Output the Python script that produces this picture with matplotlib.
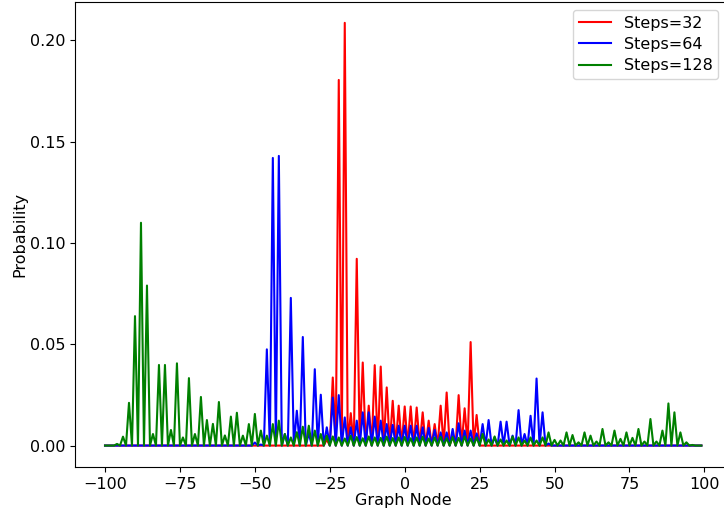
import numpy as np
import matplotlib
matplotlib.use('Agg')
import matplotlib.pyplot as plt

# Graph nodes on the line
nodes = np.arange(-100, 100)

# Walk probabilities on the even nodes (odd nodes are zero), listed from the first even node
red_start = -26
red_probs = [0.003, 0.0336, 0.1805, 0.2087, 0.016, 0.0922, 0.041, 0.0197, 0.0397,
             0.039, 0.0287, 0.0221, 0.0197, 0.0193, 0.0193, 0.0188, 0.0164, 0.0123,
             0.0106, 0.0197, 0.0262, 0.005, 0.0249, 0.0184, 0.0511, 0.0151]

blue_start = -50
blue_probs = [0.0015, 0.0005, 0.0475, 0.142, 0.143, 0.0057, 0.0729, 0.0172, 0.0536,
              0.006, 0.0377, 0.0251, 0.009, 0.0237, 0.0249, 0.0139, 0.009, 0.0123,
              0.0164, 0.0164, 0.0143, 0.0123, 0.0106, 0.0102, 0.0098, 0.0098, 0.0098,
              0.0098, 0.009, 0.0087, 0.0077, 0.0065, 0.0065, 0.0082, 0.011, 0.0074,
              0.0074, 0.006, 0.0106, 0.0126, 0.004, 0.0118, 0.0118, 0.0049, 0.0175,
              0.0057, 0.0147, 0.0331, 0.0164, 0.001]

green_start = -96
green_probs = [0.0008, 0.0044, 0.0211, 0.0639, 0.110, 0.079, 0.0057, 0.0398, 0.0398,
               0.0077, 0.0406, 0.004, 0.0333, 0.0057, 0.024, 0.0126, 0.0107, 0.0215,
               0.005, 0.0143, 0.0162, 0.0049, 0.0106, 0.0156, 0.0074, 0.0049, 0.0106,
               0.0123, 0.0057, 0.004, 0.0066, 0.0093, 0.0098, 0.0074, 0.0057, 0.0049,
               0.0045, 0.004, 0.0035, 0.0048, 0.0042, 0.0036, 0.0045, 0.004, 0.0038,
               0.0044, 0.0037, 0.004, 0.0042, 0.0036, 0.004, 0.0044, 0.0035, 0.004,
               0.0043, 0.0036, 0.0042, 0.0038, 0.0045, 0.0035, 0.004, 0.0057, 0.003,
               0.0045, 0.003, 0.0025, 0.0045, 0.004, 0.0025, 0.004, 0.0025, 0.004,
               0.0065, 0.0028, 0.0025, 0.0065, 0.0052, 0.0016, 0.0065, 0.0049, 0.002,
               0.0082, 0.0016, 0.0074, 0.0033, 0.0065, 0.0038, 0.0082, 0.002, 0.0131,
               0.002, 0.0074, 0.0208, 0.0164, 0.0065, 0.0016, 0.0003]


def spread(start, probs):
    # place the even-node values onto the full node array
    p = np.zeros(len(nodes))
    idx = np.searchsorted(nodes, start) + 2 * np.arange(len(probs))
    p[idx] = probs
    return p


series = [
    ('Steps=32', spread(red_start, red_probs), 'red'),
    ('Steps=64', spread(blue_start, blue_probs), 'blue'),
    ('Steps=128', spread(green_start, green_probs), 'green'),
]

fs = 11.5
fig = plt.figure(figsize=(7.24, 5.15), dpi=100)
ax = fig.add_axes([75.2 / 724, 48.3 / 515, 656 / 724, 465 / 515])

for label, p, c in series:
    ax.plot(nodes, p, color=c, linewidth=1.5, label=label)

ax.set_xlabel('Graph Node', fontsize=fs, labelpad=1)
ax.set_ylabel('Probability', fontsize=fs, labelpad=2)
ax.tick_params(labelsize=fs, length=3.6)
ax.legend(fontsize=fs, loc='upper right', bbox_to_anchor=(718 / 724, 1 - 10 / 515),
          bbox_transform=fig.transFigure, borderaxespad=0, labelspacing=0.4,
          borderpad=0.35)

fig.savefig('out.png', dpi=100)
